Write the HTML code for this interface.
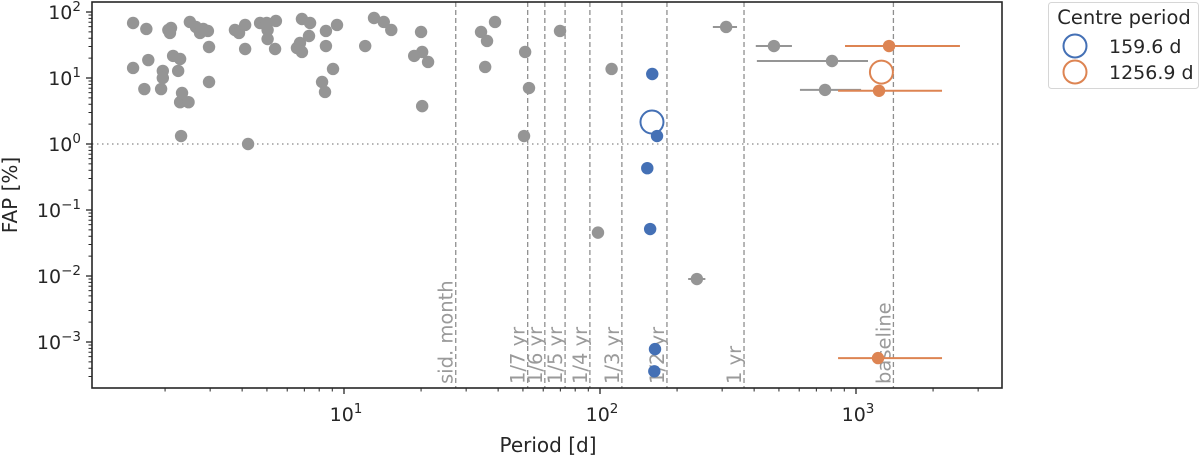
<!DOCTYPE html>
<html><head><meta charset="utf-8"><style>
html,body{margin:0;padding:0;background:#fff;}
svg{display:block;font-family:"DejaVu Sans","Liberation Sans",sans-serif;}
</style></head><body>
<svg id="chart" width="1200" height="457" xmlns="http://www.w3.org/2000/svg"></svg>
<script>
// ---- data ----
const grayPeriods = [1.50,1.69,1.50,1.72,1.66,1.93,1.96,1.96,2.06,2.11,2.09,2.15,2.25,2.29,2.29,2.33,2.47,2.31,2.50,2.64,2.74,2.82,2.94,2.97,2.97,3.75,3.89,4.11,4.11,4.22,4.70,4.99,5.03,5.03,5.38,5.42,6.55,6.73,6.85,6.85,7.30,7.37,8.21,8.43,8.50,8.50,9.06,9.39,12.1,13.1,14.3,15.3,20.0,20.2,18.8,21.3,20.2,34.3,36.2,38.9,35.6,51.0,52.8,50.5,69.8,111,98.2,239,311,478,806,757];
const grayFAP = [68.1,55.3,14.2,18.7,6.8,6.8,12.8,10.0,53.4,57.3,48.1,21.6,12.8,19.4,4.3,5.93,4.3,1.32,70.6,59.3,48.1,55.3,51.6,29.5,8.7,53.4,48.1,63.6,27.5,1.0,68.1,68.1,53.4,39.0,27.5,73.1,28.5,33.9,24.8,78.3,43.3,68.1,8.7,6.14,51.6,30.5,13.7,63.6,30.5,81.1,70.6,53.4,49.8,24.8,21.6,17.5,3.75,49.8,36.4,70.6,14.7,24.8,7.05,1.32,51.6,13.7,0.0454,0.009,59.3,30.5,18.1,6.6];
const grayErrLo = {67:221, 68:276, 69:406, 70:410, 71:604};
const grayErrHi = {67:258, 68:343, 69:562, 70:1114, 71:1047};
const bluePeriods = [160,167,153,157,164,163];
const blueFAP = [11.5,1.32,0.43,0.0515,0.00078,0.00036];
const orangePeriods = [1346,1230,1219];
const orangeFAP = [30.5,6.4,0.00057];
const orangeErrLo = [906,851,851];
const orangeErrHi = [2547,2168,2168];
const centrePeriods = [159.6,1256.9];
const centreFAP = [2.15,12.3];
const centreLabels = ["159.6 d","1256.9 d"];
const refPeriods = [27.32,52.18,60.88,73.05,91.31,121.75,182.6,365.25,1400];
const refLabels = ["sid. month","1/7 yr","1/6 yr","1/5 yr","1/4 yr","1/3 yr","1/2 yr","1 yr","baseline"];
const yTickExps = [-3,-2,-1,0,1,2];
const xTickExps = [1,2,3];

// ---- axes ----
const L=92,R=1002,T=2,B=388;
const X = p => 344 + 256*(Math.log10(p)-1);
const Y = f => 12 + 66*(2-Math.log10(f));
const NS="http://www.w3.org/2000/svg";
const svg=document.getElementById('chart');
function mk(tag,attrs,parent){const e=document.createElementNS(NS,tag);for(const k in attrs)e.setAttribute(k,attrs[k]);(parent||svg).appendChild(e);return e;}
const GRAY="#959595",BLUE="#4470b5",ORANGE="#dd8452",AX="#262626";

const defs=mk('defs',{});const cp=mk('clipPath',{id:'clip'},defs);mk('rect',{x:L,y:T,width:R-L,height:B-T},cp);
const plot=mk('g',{'clip-path':'url(#clip)'});



const th=mk('line',{x1:L,x2:R,y1:Y(1),y2:Y(1),stroke:'#888',"stroke-width":1.3,"stroke-dasharray":"1.5,3.5"},plot);



refPeriods.forEach((p,i)=>{
  const x=X(p);
  const l=mk('line',{x1:x,x2:x,y1:T,y2:B,stroke:'#8f8f8f',"stroke-width":1.3,"stroke-dasharray":"5,3"},plot);
  
  
  const t=mk('text',{transform:`translate(${x-3},${B-4}) rotate(-90)`,fill:'#9a9a9a',"font-size":19.5},plot);
  t.textContent=refLabels[i];
  
  
});

grayPeriods.forEach((p,i)=>{
  if(grayErrLo[i]!==undefined){
    const e=mk('line',{x1:X(grayErrLo[i]),x2:X(grayErrHi[i]),y1:Y(grayFAP[i]),y2:Y(grayFAP[i]),stroke:GRAY,"stroke-width":2},plot);
    
    
  }
  const c=mk('circle',{cx:X(p),cy:Y(grayFAP[i]),r:6.2,fill:GRAY},plot);
  
  
});
orangePeriods.forEach((p,i)=>{
  const e=mk('line',{x1:X(orangeErrLo[i]),x2:X(orangeErrHi[i]),y1:Y(orangeFAP[i]),y2:Y(orangeFAP[i]),stroke:ORANGE,"stroke-width":2},plot);
  
  
  const c=mk('circle',{cx:X(p),cy:Y(orangeFAP[i]),r:6.2,fill:ORANGE},plot);
  
  
});
bluePeriods.forEach((p,i)=>{
  const c=mk('circle',{cx:X(p),cy:Y(blueFAP[i]),r:6.2,fill:BLUE},plot);
  
  
});
[BLUE,ORANGE].forEach((col,i)=>{
  const c=mk('circle',{cx:X(centrePeriods[i]),cy:Y(centreFAP[i]),r:11.5,fill:'none',stroke:col,"stroke-width":2},plot);
  
  
});

const fr=mk('rect',{x:L,y:T,width:R-L,height:B-T,fill:'none',stroke:AX,"stroke-width":1.6});



const yMin=Math.pow(10,2-(B-12)/66);
for(let e=-4;e<=2;e++){for(let m=1;m<10;m++){const v=m*Math.pow(10,e);if(v<yMin||v>100.5)continue;const y=Y(v);
  mk('line',{x1:L-(m==1?6:3.5),x2:L,y1:y,y2:y,stroke:AX,"stroke-width":m==1?1.3:1});}}
yTickExps.forEach(e=>{
  const t=mk('text',{x:L-11,y:Y(Math.pow(10,e))+7,"text-anchor":"end",fill:AX,"font-size":19});
  t.innerHTML=`10<tspan dy="-8" font-size="13.5">${e<0?'\u2212'+(-e):e}</tspan>`;
  
  
});
for(let e=0;e<=3;e++){for(let m=1;m<10;m++){const v=m*Math.pow(10,e);const x=X(v);if(x<L||x>R)continue;
  mk('line',{x1:x,x2:x,y1:B,y2:B+(m==1?6:3.5),stroke:AX,"stroke-width":m==1?1.3:1});}}
xTickExps.forEach(e=>{
  const t=mk('text',{x:X(Math.pow(10,e))+2,y:B+33,"text-anchor":"middle",fill:AX,"font-size":19});
  t.innerHTML=`10<tspan dy="-8" font-size="13.5">${e}</tspan>`;
  
  
});
const xt=mk('text',{x:548,y:452,"text-anchor":"middle",fill:AX,"font-size":20});xt.textContent='Period [d]';


const yt=mk('text',{transform:'translate(17,195) rotate(-90)',"text-anchor":"middle",fill:AX,"font-size":20});yt.textContent='FAP [%]';



const lg=mk('g',{});


mk('rect',{x:1048.5,y:2.5,width:150,height:86,rx:3,fill:'#fff',stroke:'#d6d6d6'},lg);
const ltitle=mk('text',{x:1124,y:24,"text-anchor":"middle",fill:AX,"font-size":19.5},lg);ltitle.textContent='Centre period';


[BLUE,ORANGE].forEach((col,i)=>{
  const y=46+26*i;
  const c=mk('circle',{cx:1075,cy:y,r:11.5,fill:'none',stroke:col,"stroke-width":2},lg);
  
  
  const t=mk('text',{x:1109,y:y+7,"text-anchor":"start",fill:AX,"font-size":19},lg);t.textContent=centreLabels[i];
  
  
});
</script>
</body></html>
